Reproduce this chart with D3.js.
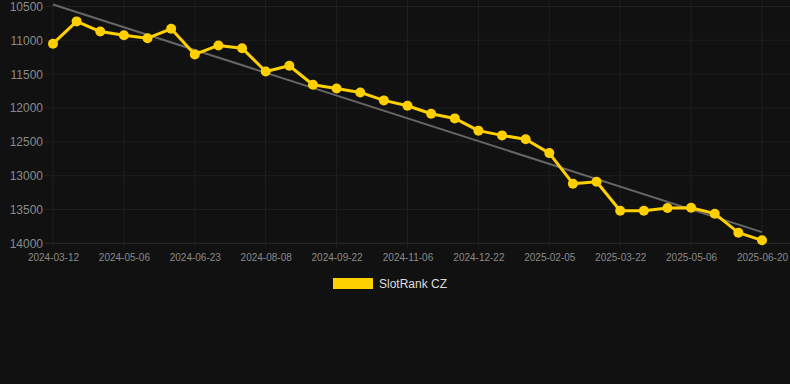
<!DOCTYPE html>
<html><head><meta charset="utf-8">
<script src="https://cdn.jsdelivr.net/npm/d3@7"></script>
<style>html,body{margin:0;padding:0;background:#111111;}svg{display:block;}</style>
</head><body>
<svg id="chart" width="790" height="384"></svg>
<script>
const dates = ["2024-03-12","2024-03-30","2024-04-17","2024-05-06","2024-05-22","2024-06-07","2024-06-23","2024-07-08","2024-07-23","2024-08-08","2024-08-23","2024-09-07","2024-09-22","2024-10-07","2024-10-22","2024-11-06","2024-11-21","2024-12-06","2024-12-22","2025-01-06","2025-01-21","2025-02-05","2025-02-20","2025-03-07","2025-03-22","2025-04-06","2025-04-21","2025-05-06","2025-05-21","2025-06-05","2025-06-20"];
const ranks = [11050,10720,10870,10925,10968,10830,11209,11076,11116,11460,11376,11657,11711,11770,11888,11967,12085,12154,12335,12405,12462,12667,13119,13090,13518,13518,13479,13474,13562,13843,13956];
const trendDates = ["2024-03-12","2025-06-20"];
const trendValues = [10470,13835];
const yTicks = [10500,11000,11500,12000,12500,13000,13500,14000];
const seriesName = "SlotRank CZ";

const svg = d3.select("#chart");
const mLeft = 53, mRight = 762, mTop = 6.5, mBottom = 243.3;
const x = d3.scalePoint().domain(dates).range([mLeft, mRight]).padding(0);
const y = d3.scaleLinear().domain([10500, 14000]).range([mTop, mBottom]);
const tickDates = dates.filter((d, i) => i % 3 === 0);

// grid
const g = svg.append("g");
g.selectAll(".hg").data(yTicks).join("line")
  .attr("x1", 45).attr("x2", 790).attr("y1", d => y(d)).attr("y2", d => y(d))
  .attr("stroke", d => d === 14000 ? "#2c2c2c" : "#1f1f1f").attr("stroke-width", 1);
g.selectAll(".vg").data(tickDates).join("line")
  .attr("x1", d => x(d)).attr("x2", d => x(d)).attr("y1", 0).attr("y2", mBottom + 5)
  .attr("stroke", "#1f1f1f").attr("stroke-width", 1);

// y axis labels
const yAxis = d3.axisLeft(y).tickValues(yTicks).tickSize(0).tickPadding(0).tickFormat(d3.format("d"));
const ya = svg.append("g").attr("transform", "translate(43,0)").call(yAxis);
ya.select(".domain").remove();
ya.selectAll("text").attr("fill", "#8a8a8a").style("font-family", "Liberation Sans, Arial, sans-serif").style("font-size", "12px");

// x axis labels
const xAxis = d3.axisBottom(x).tickValues(tickDates).tickSize(0).tickPadding(0);
const xa = svg.append("g").attr("transform", `translate(0,${mBottom + 11})`).call(xAxis);
xa.select(".domain").remove();
xa.selectAll("text").attr("fill", "#8a8a8a").style("font-family", "Liberation Sans, Arial, sans-serif").style("font-size", "10px");

// trend line
svg.append("path").datum(trendDates.map((d, i) => [d, trendValues[i]]))
  .attr("d", d3.line().x(d => x(d[0])).y(d => y(d[1])))
  .attr("fill", "none").attr("stroke", "#666666").attr("stroke-width", 2);

// series
const pts = dates.map((d, i) => [d, ranks[i]]);
svg.append("path").datum(pts)
  .attr("d", d3.line().x(d => x(d[0])).y(d => y(d[1])))
  .attr("fill", "none").attr("stroke", "#FFD000").attr("stroke-width", 3).attr("stroke-linejoin", "round");
svg.selectAll(".pt").data(pts).join("circle")
  .attr("cx", d => x(d[0])).attr("cy", d => y(d[1])).attr("r", 5)
  .attr("fill", "#FFD000");

// legend
svg.append("rect").attr("x", 333).attr("y", 278).attr("width", 40).attr("height", 11).attr("fill", "#FFD000");
svg.append("text").attr("x", 379).attr("y", 288).text(seriesName)
  .attr("fill", "#dddddd").style("font-family", "Liberation Sans, Arial, sans-serif").style("font-size", "12px");
</script>
</body></html>
